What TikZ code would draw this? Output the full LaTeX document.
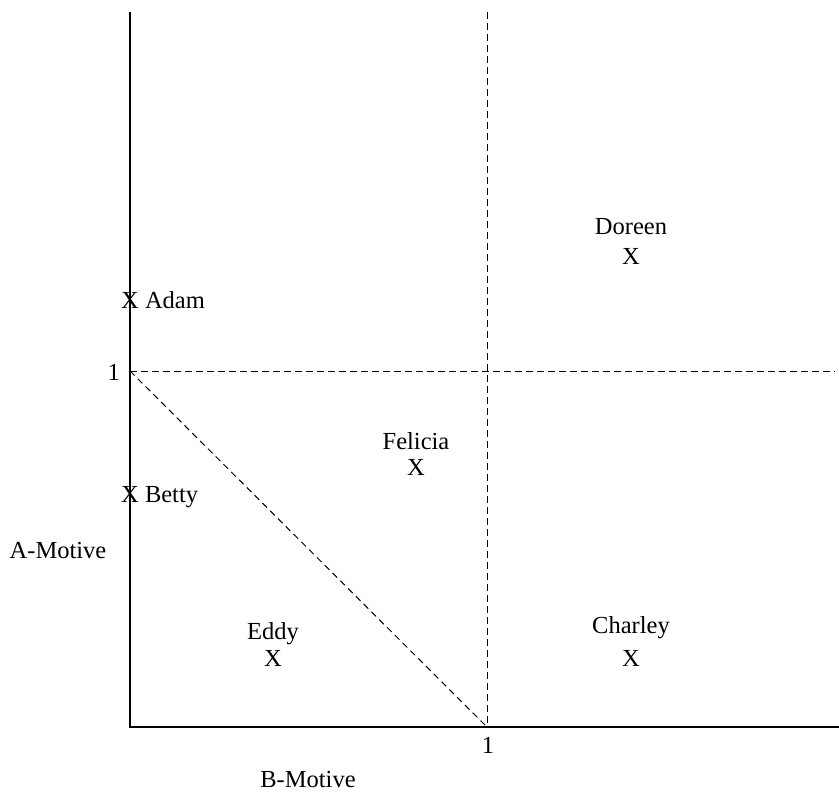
\documentclass[tikz,border=0pt]{standalone}
\usepackage{fontspec}
\setmainfont{Liberation Serif}
\begin{document}
\begin{tikzpicture}[x=1pt,y=-1pt,
  lbl/.style={inner sep=0pt,font=\fontsize{24.5}{26}\selectfont},
  axis/.style={line width=1.2pt},
  guide/.style={dashed,line width=1pt,dash pattern=on 6.5pt off 4.5pt}]
\useasboundingbox (0,0) rectangle (839,793);
\coordinate (otop) at (130,12);
\coordinate (o) at (130,727);
\coordinate (xend) at (839,727);
\coordinate (vtop) at (487,12);
\coordinate (vbot) at (487,727);
\coordinate (a1) at (130,371);
\coordinate (hend) at (835,371);
\draw[axis] (otop) -- (o) -- (xend);
\draw[guide] (vtop) -- (vbot);
\draw[guide] (a1) -- (hend);
\draw[guide] (a1) -- (vbot);
\node[lbl,anchor=east] (one-a) at (120,372) {1};
\node[lbl] (one-b) at (488,745) {1};
\node[lbl] (amot) at (58,551) {A-Motive};
\node[lbl] (bmot) at (308,780) {B-Motive};
\node[lbl] (doreen) at (631,227) {Doreen};
\node[lbl] (doreenx) at (631,256) {X};
\node[lbl,anchor=west] (adam) at (121,300) {X Adam};
\node[lbl,anchor=west] (betty) at (121,497) {X Betty};
\node[lbl] (felicia) at (416,441) {Felicia};
\node[lbl] (feliciax) at (416,467) {X};
\node[lbl] (eddy) at (273,634) {Eddy};
\node[lbl] (eddyx) at (273,658) {X};
\node[lbl] (charley) at (631,628) {Charley};
\node[lbl] (charleyx) at (631,658) {X};
\end{tikzpicture}
\end{document}
